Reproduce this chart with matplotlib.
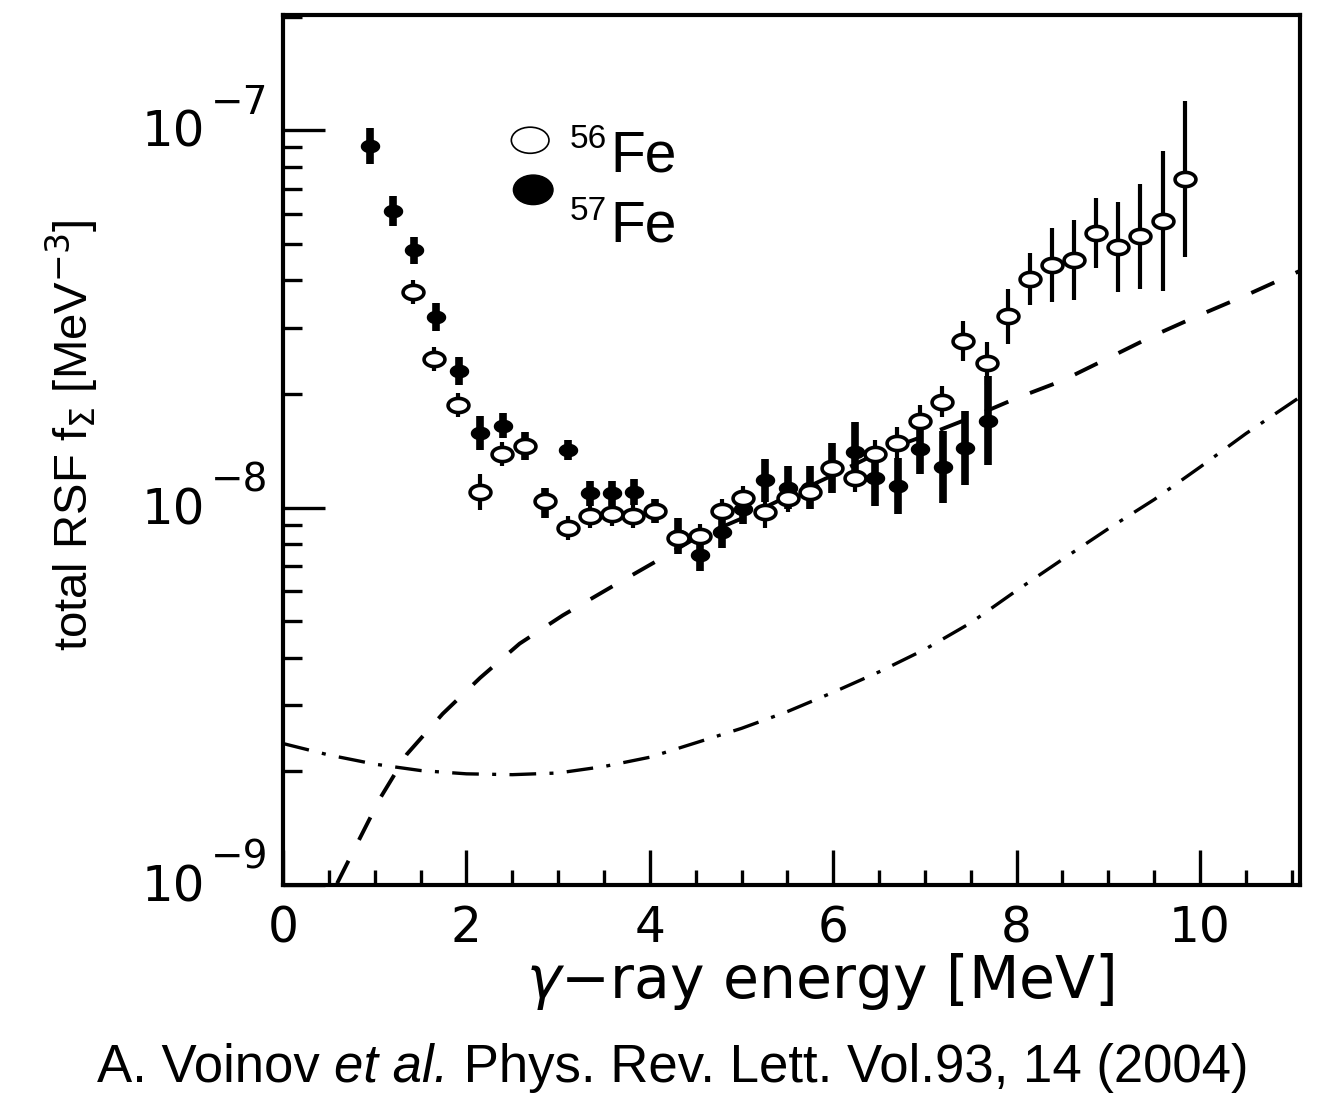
import numpy as np
import matplotlib
matplotlib.use("Agg")
import matplotlib.pyplot as plt
from matplotlib.path import Path
from matplotlib.ticker import MultipleLocator, LogLocator, NullFormatter, FixedLocator
from matplotlib.patches import Ellipse

plt.rcParams['font.family'] = ['Liberation Sans', 'DejaVu Sans']
plt.rcParams['mathtext.fontset'] = 'dejavusans'

# 57Fe (filled)
e57 = [0.95, 1.20, 1.43, 1.67, 1.92, 2.15, 2.40, 2.64, 2.86, 3.11, 3.35, 3.59, 3.83, 4.06, 4.31,
       4.55, 4.79, 5.02, 5.26, 5.51, 5.75, 5.99, 6.24, 6.46, 6.71, 6.95, 7.20, 7.44, 7.69]
f57 = [9.1e-8, 6.1e-8, 4.8e-8, 3.2e-8, 2.3e-8, 1.58e-8, 1.65e-8, 1.46e-8, 1.03e-8, 1.42e-8, 1.09e-8,
       1.09e-8, 1.10e-8, 9.8e-9, 8.4e-9, 7.5e-9, 8.6e-9, 9.9e-9, 1.18e-8, 1.13e-8, 1.13e-8, 1.27e-8,
       1.40e-8, 1.20e-8, 1.14e-8, 1.43e-8, 1.28e-8, 1.44e-8, 1.70e-8]
# half length of the error bar in decades
d57 = [0.048, 0.040, 0.037, 0.037, 0.037, 0.045, 0.034, 0.037, 0.040, 0.027, 0.034, 0.034, 0.034,
       0.032, 0.048, 0.042, 0.042, 0.040, 0.058, 0.058, 0.058, 0.066, 0.080, 0.074, 0.074, 0.066,
       0.095, 0.098, 0.117]

# 56Fe (open)
e56 = [1.42, 1.65, 1.91, 2.15, 2.39, 2.64, 2.86, 3.11, 3.35, 3.59, 3.82, 4.06, 4.31, 4.55, 4.79,
       5.02, 5.26, 5.51, 5.75, 5.99, 6.24, 6.46, 6.70, 6.95, 7.19, 7.42, 7.68, 7.91, 8.15, 8.39,
       8.63, 8.87, 9.11, 9.35, 9.60, 9.84]
f56 = [3.72e-8, 2.48e-8, 1.87e-8, 1.10e-8, 1.39e-8, 1.46e-8, 1.04e-8, 8.85e-9, 9.5e-9, 9.6e-9,
       9.5e-9, 9.8e-9, 8.3e-9, 8.4e-9, 9.8e-9, 1.06e-8, 9.75e-9, 1.06e-8, 1.10e-8, 1.27e-8, 1.20e-8,
       1.39e-8, 1.48e-8, 1.70e-8, 1.91e-8, 2.77e-8, 2.41e-8, 3.21e-8, 4.03e-8, 4.39e-8, 4.52e-8,
       5.33e-8, 4.90e-8, 5.23e-8, 5.74e-8, 7.41e-8]
d56 = [0.032, 0.032, 0.032, 0.048, 0.032, 0.027, 0.027, 0.032, 0.032, 0.032, 0.032, 0.027, 0.032,
       0.032, 0.032, 0.032, 0.042, 0.037, 0.037, 0.037, 0.037, 0.037, 0.042, 0.042, 0.042, 0.053,
       0.058, 0.074, 0.069, 0.098, 0.106, 0.093, 0.119, 0.140, 0.186, 0.207]

# model curves
e_dash = [0.59, 0.81, 1.06, 1.35, 1.74, 2.15, 2.58, 3.05, 3.57, 4.08, 4.5, 5.0, 5.5, 6.0, 6.5,
          7.0, 7.5, 8.0, 8.5, 9.0, 9.5, 10.0, 10.5, 11.1]
f_dash = [1.01e-9, 1.29e-9, 1.70e-9, 2.22e-9, 2.84e-9, 3.54e-9, 4.36e-9, 5.18e-9, 6.14e-9, 7.23e-9,
          8.3e-9, 9.35e-9, 1.07e-8, 1.22e-8, 1.40e-8, 1.55e-8, 1.73e-8, 1.95e-8, 2.17e-8, 2.49e-8,
          2.86e-8, 3.24e-8, 3.65e-8, 4.25e-8]
e_dd = [0.0, 0.5, 1.0, 1.5, 2.0, 2.5, 3.0, 3.5, 4.0, 4.5, 5.0, 5.5, 6.0, 6.5, 7.0, 7.5, 8.0,
        8.5, 9.0, 9.5, 10.0, 10.5, 11.1]
f_dd = [2.37e-9, 2.21e-9, 2.09e-9, 2.01e-9, 1.97e-9, 1.96e-9, 1.98e-9, 2.06e-9, 2.18e-9, 2.38e-9,
        2.60e-9, 2.88e-9, 3.24e-9, 3.67e-9, 4.21e-9, 4.95e-9, 6.03e-9, 7.29e-9, 8.79e-9, 1.05e-8,
        1.28e-8, 1.57e-8, 1.97e-8]

y_ticks = [1e-9, 1e-8, 1e-7]
y_exps = ['\u22129', '\u22128', '\u22127']

# elliptical marker (wider than tall)
t = np.linspace(0, 2*np.pi, 60)
ell = Path(np.column_stack([np.cos(t), 0.68*np.sin(t)]), closed=True)

def yerr(v, d):
    v = np.array(v); d = np.array(d)
    return [v*(1 - 10**(-d)), v*(10**d - 1)]

fig = plt.figure(figsize=(13.37, 11.08), dpi=100)
ax = fig.add_axes([0.2117, 0.2013, 0.7606, 0.7852])

ax.plot(e_dash, f_dash, color='black', lw=2.8, dashes=(6.5, 6))
ax.plot(e_dd, f_dd, color='black', lw=2.4, dashes=(8, 4, 1.2, 4))

ax.errorbar(e57, f57, yerr=yerr(f57, d57), fmt='none', ecolor='black', elinewidth=5.5, capsize=0)
ax.plot(e57, f57, ls='none', marker=ell, ms=13, mfc='black', mec='black')
ax.errorbar(e56, f56, yerr=yerr(f56, d56), fmt='none', ecolor='black', elinewidth=3, capsize=0)
ax.plot(e56, f56, ls='none', marker=ell, ms=15, mfc='white', mec='black', mew=2.6)

ax.set_yscale('log')
ax.set_xlim(0, 11.09)
ax.set_ylim(1e-9, 2.02e-7)

for s in ax.spines.values():
    s.set_linewidth(3)

ax.xaxis.set_major_locator(MultipleLocator(2))
ax.xaxis.set_minor_locator(MultipleLocator(0.5))
ax.yaxis.set_major_locator(FixedLocator(y_ticks))
ax.yaxis.set_minor_locator(LogLocator(base=10, subs=np.arange(2, 10)))
ax.yaxis.set_minor_formatter(NullFormatter())
ax.set_yticklabels(['', '', ''])
ax.tick_params(axis='both', which='both', direction='in', top=False, right=False, width=2.4)
ax.tick_params(axis='x', which='major', length=25, labelsize=35, pad=14)
ax.tick_params(axis='x', which='minor', length=11)
ax.tick_params(axis='y', which='major', length=30)
ax.tick_params(axis='y', which='minor', length=14)
for lab in ax.get_xticklabels():
    lab.set_family('DejaVu Sans')

# y tick labels: "10" with a raised exponent
for v, ex in zip(y_ticks, y_exps):
    ax.annotate('10', xy=(0, v), xycoords=('axes fraction', 'data'), xytext=(-56, -2),
                textcoords='offset points', ha='right', va='center', fontsize=36,
                family='DejaVu Sans', annotation_clip=False)
    ax.annotate(ex, xy=(0, v), xycoords=('axes fraction', 'data'), xytext=(-52, 6),
                textcoords='offset points', ha='left', va='bottom', fontsize=28,
                family='DejaVu Sans', annotation_clip=False)

ax.set_xlabel(r'$\gamma$' + '\u2212ray energy [MeV]', fontsize=42, family='DejaVu Sans')
ax.xaxis.set_label_coords(0.528, -0.076)
ax.set_ylabel(r'total RSF f$_\Sigma$ [MeV$^{-3}$]', fontsize=34,
              family=['Liberation Sans Narrow', 'Liberation Sans'])
ax.yaxis.set_label_coords(-0.18, 0.517)

# legend
ax.add_patch(Ellipse((0.243, 0.856), 0.037, 0.030, transform=ax.transAxes,
                     facecolor='white', edgecolor='black', lw=1.2))
ax.add_patch(Ellipse((0.246, 0.799), 0.039, 0.034, transform=ax.transAxes,
                     facecolor='black', edgecolor='black'))
fig.text(570/1337, 1 - 148/1108, '56', fontsize=24, ha='left', va='baseline')
fig.text(610/1337, 1 - 172/1108, 'Fe', fontsize=41, ha='left', va='baseline')
fig.text(570/1337, 1 - 220/1108, '57', fontsize=24, ha='left', va='baseline')
fig.text(610/1337, 1 - 242/1108, 'Fe', fontsize=41, ha='left', va='baseline')

# citation line, pieces laid out one after another
fig.canvas.draw()
r = fig.canvas.get_renderer()
pieces = [('A. Voinov ', 'normal'), ('et al.', 'italic'), (' Phys. Rev. Lett. Vol.93, 14 (2004)', 'normal')]
texts = []
x = 0
for s, st in pieces:
    tx = fig.text(x, 1 - 1082/1108, s, fontsize=38, style=st, ha='left', va='baseline')
    texts.append(tx)
    x = tx.get_window_extent(r).x1 / fig.bbox.width
total = x
x = 0.5 - total/2 + 0.003
for tx in texts:
    tx.set_x(x)
    x = tx.get_window_extent(r).x1 / fig.bbox.width

fig.savefig('out.png', dpi=100)
